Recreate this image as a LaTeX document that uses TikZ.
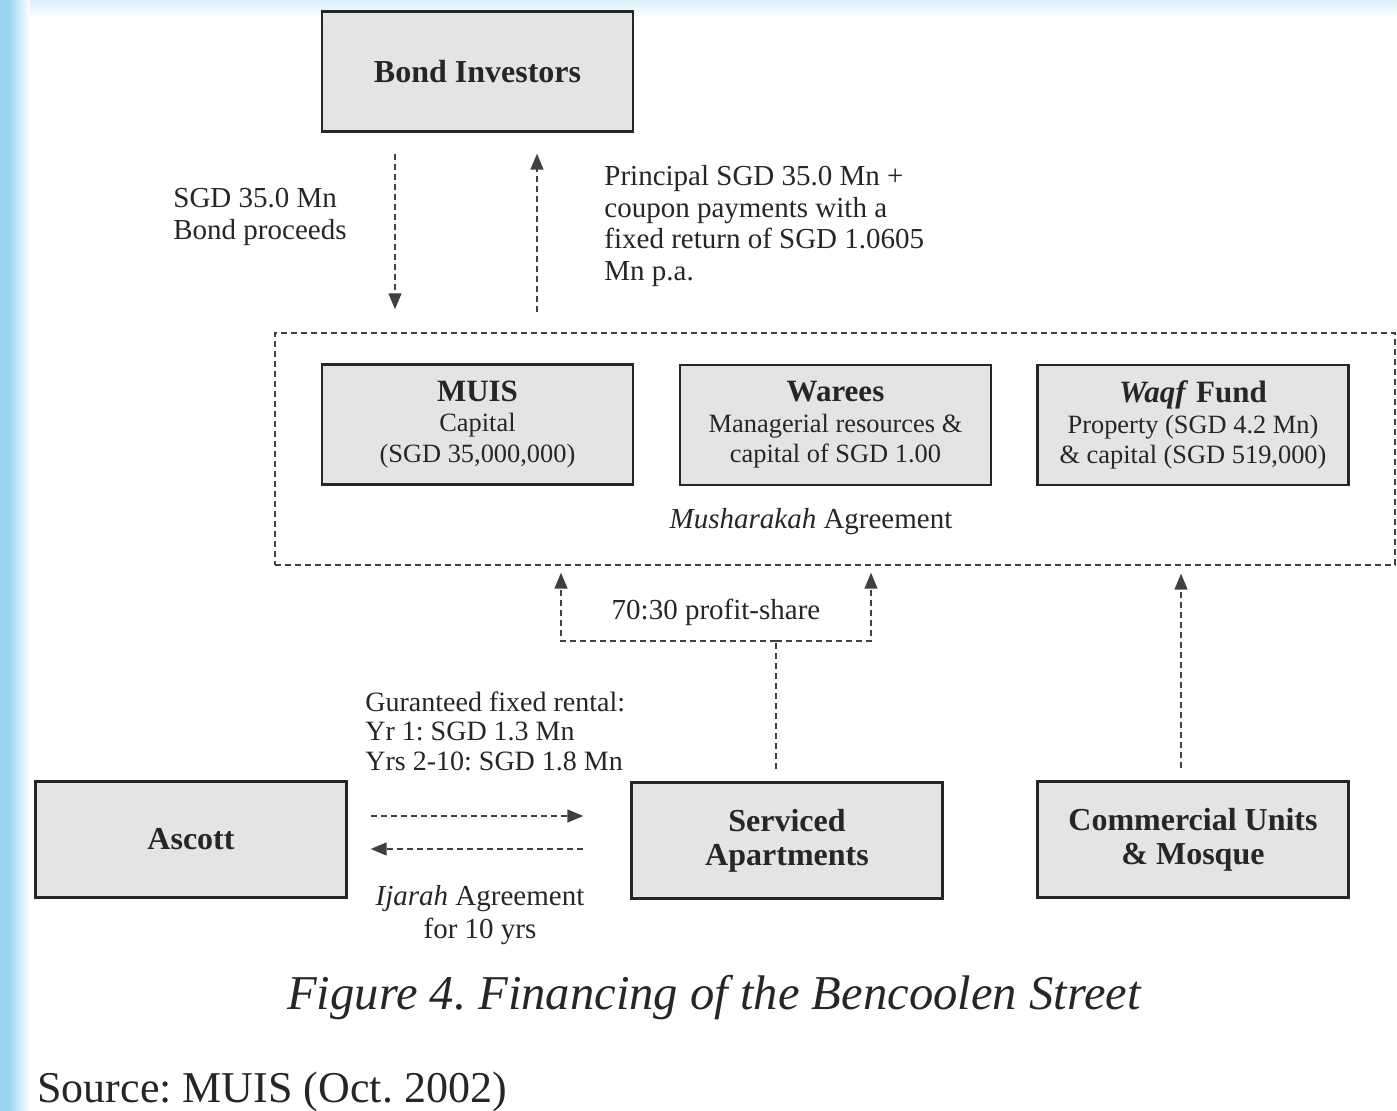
\documentclass[tikz,border=0pt]{standalone}
\usepackage{fontspec}
\setmainfont{Liberation Serif}
\usetikzlibrary{arrows.meta}
\definecolor{edgeblue}{RGB}{150,212,242}
\definecolor{boxgray}{RGB}{228,228,228}
\frenchspacing

\begin{document}
\begin{tikzpicture}[x=0.5pt,y=-0.5pt,>={Triangle[length=8pt,width=6.5pt]},text=black!85]
    \tikzstyle{party}=[rectangle,draw=black!85,line width=1.2pt,fill=boxgray,minimum width=155.5pt,minimum height=60pt,align=center,inner sep=2pt,font=\fontsize{13.2}{15.25}\selectfont]
    \tikzstyle{head}=[party,minimum height=58pt,font=\bfseries\fontsize{16}{17}\selectfont]
    \tikzstyle{flow}=[draw=black!75,line width=0.7pt,densely dashed]
    \tikzstyle{note}=[align=left,inner sep=0pt,font=\fontsize{14.5}{15.75}\selectfont]

    \useasboundingbox (0,0) rectangle (1397,1111);
    % page edge
    \fill[edgeblue] (0,0) rectangle (8,1111);
    \shade[left color=edgeblue,right color=white] (8,0) rectangle (30,1111);
    \shade[top color=edgeblue!35,bottom color=white] (30,0) rectangle (1397,18);

    % bond investors node
    \node[head,minimum height=60pt] (bond) at (477.5,71.5) {Bond Investors};

    % musharakah partners
    \node[flow,minimum width=560pt,minimum height=116pt] (pool) at (835,449) {};
    \node[party] (muis) at (477.5,424.5) {{\bfseries\fontsize{15.5}{17}\selectfont MUIS}\\Capital\\(SGD 35,000,000)};
    \node[party] (warees) at (835.5,425) {{\bfseries\fontsize{15.5}{17}\selectfont Warees}\\Managerial resources \&\\capital of SGD 1.00};
    \node[party] (waqf) at (1193,425) {{\bfseries\fontsize{15.5}{17}\selectfont\textit{Waqf} Fund}\\Property (SGD 4.2 Mn)\\\& capital (SGD 519,000)};
    \node[note] (mush) at (811,522) {\textit{Musharakah} Agreement};

    % assets and lessee
    \node[head] (ascott) at (191,839.5) {Ascott};
    \node[head] (sa) at (787,840.5) {Serviced\\Apartments};
    \node[head] (cu) at (1193,839.5) {Commercial Units\\\& Mosque};

    % bond flows
    \coordinate (down) at (395,0);
    \coordinate (up) at (537,0);
    \draw[flow,->,shorten <=10.5pt,shorten >=11.5pt] (bond.south -| down) -- (pool.north -| down);
    \draw[flow,->,shorten <=10pt,shorten >=10.5pt] (pool.north -| up) -- (bond.south -| up);
    \node[note,anchor=west] (proceeds) at (173,217) {SGD 35.0 Mn\\Bond proceeds};
    \node[note,anchor=west] (coupon) at (604,226) {Principal SGD 35.0 Mn +\\coupon payments with a\\fixed return of SGD 1.0605\\Mn p.a.};

    % profit share from the apartments
    \coordinate (split) at (776,641);
    \coordinate (ms) at (561,0);
    \coordinate (ws) at (871,0);
    \draw[flow,shorten <=6pt] (sa.north -| split) -- (split);
    \draw[flow,->,shorten >=3.5pt] (split) -| (pool.south -| ms);
    \draw[flow,->,shorten >=3.5pt] (split) -| (pool.south -| ws);
    \node[note] (share) at (716,612) {70:30 profit-share};

    % commercial units back to the fund
    \coordinate (wf) at (1181,0);
    \draw[flow,->,shorten <=6pt,shorten >=4pt] (cu.north -| wf) -- (pool.south -| wf);

    % ijarah lease
    \coordinate (pay) at (0,816);
    \coordinate (lease) at (0,849);
    \draw[flow,->,shorten <=11.5pt,shorten >=23.5pt] (ascott.east |- pay) -- (sa.west |- pay);
    \draw[flow,->,shorten <=23.5pt,shorten >=11.5pt] (sa.west |- lease) -- (ascott.east |- lease);
    \node[note,anchor=west,font=\fontsize{14}{14.75}\selectfont] (rental) at (365,731) {Guranteed fixed rental:\\Yr 1: SGD 1.3 Mn\\Yrs 2-10: SGD 1.8 Mn};
    \node[note,align=center,font=\fontsize{14.5}{16.5}\selectfont] (ijarah) at (480,915) {\textit{Ijarah} Agreement\\for 10 yrs};

    % caption and source
    \node[font=\itshape\fontsize{24.3}{28}\selectfont] (caption) at (714,998) {Figure 4. Financing of the Bencoolen Street};
    \node[anchor=west,inner sep=0pt,font=\fontsize{22}{26}\selectfont] (source) at (37,1092) {Source: MUIS (Oct. 2002)};
\end{tikzpicture}
\end{document}
